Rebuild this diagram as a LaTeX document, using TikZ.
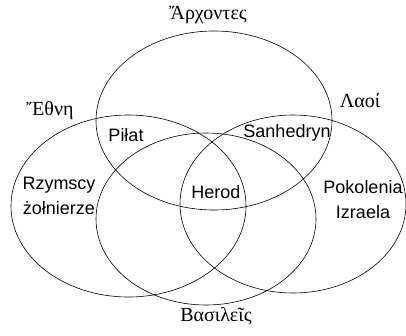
\documentclass[tikz,border=0pt]{standalone}
\usepackage{fontspec}
\setsansfont{Liberation Sans}
\newfontfamily\greekfont{Liberation Serif}
\usepackage{tikz}
\usetikzlibrary{shapes.geometric}

\begin{document}
\begin{tikzpicture}[
    x=1pt, y=-1pt,
    set/.style={draw, ellipse, line width=0.6pt, inner sep=0pt},
    member/.style={font=\sffamily\fontsize{18}{25}\selectfont, align=center, inner sep=0pt},
    group/.style={font=\greekfont\fontsize{20}{24}\selectfont, inner sep=0pt, anchor=base}
]
\useasboundingbox (0,0) rectangle (406,335);

% --- sets ---
\node[set, minimum width=236pt, minimum height=179pt] (archontes) at (214,120.5) {};
\node[set, minimum width=235pt, minimum height=182pt] (ethne) at (128.5,206) {};
\node[set, minimum width=220pt, minimum height=172pt] (basileis) at (206,219) {};
\node[set, minimum width=226pt, minimum height=178pt] (laoi) at (293,204) {};

% --- set names ---
\node[group] (t-archontes) at (208,19) {Ἄρχοντες};
\node[group] (t-ethne) at (50,115) {Ἔθνη};
\node[group] (t-laoi) at (360,107) {Λαοί};
\node[group] (t-basileis) at (216,321) {Βασιλεῖς};

% --- members ---
\node[member] (pilat) at (126,135) {Piłat};
\node[member] (sanhedryn) at (287,133) {Sanhedryn};
\node[member] (herod) at (216,192) {Herod};
\node[member] (zolnierze) at (59,196) {Rzymscy\\żołnierze};
\node[member] (izrael) at (363,200) {Pokolenia\\Izraela};

\end{tikzpicture}
\end{document}
